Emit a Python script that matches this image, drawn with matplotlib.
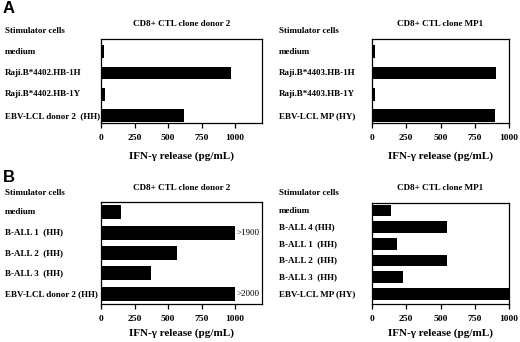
import numpy as np
import matplotlib
matplotlib.use("Agg")
import matplotlib.pyplot as plt
from matplotlib.transforms import blended_transform_factory

# Panel A data
a_left_cells = ['medium', 'Raji.B*4402.HB-1H', 'Raji.B*4402.HB-1Y', 'EBV-LCL donor 2  (HH)']
a_left_vals = [20, 970, 30, 622]
a_right_cells = ['medium', 'Raji.B*4403.HB-1H', 'Raji.B*4403.HB-1Y', 'EBV-LCL MP (HY)']
a_right_vals = [20, 905, 20, 895]

# Panel B data
b_left_cells = ['medium', 'B-ALL 1  (HH)', 'B-ALL 2  (HH)', 'B-ALL 3  (HH)', 'EBV-LCL donor 2 (HH)']
b_left_vals = [152, 1000, 568, 370, 1000]
b_left_notes = ['', '>1900', '', '', '>2000']
b_right_cells = ['medium', 'B-ALL 4 (HH)', 'B-ALL 1  (HH)', 'B-ALL 2  (HH)', 'B-ALL 3  (HH)', 'EBV-LCL MP (HY)']
b_right_vals = [142, 547, 184, 547, 223, 1000]

titles = ['CD8+ CTL clone donor 2', 'CD8+ CTL clone MP1']
xticks = [0, 250, 500, 750, 1000]
xlabel = 'IFN-\u03b3 release (pg/mL)'

W, H = 520, 342
fig = plt.figure(figsize=(W / 100, H / 100), dpi=100)
serif = 'Liberation Serif'


def px_axes(x0, y0, x1, y1):
    # pixel box (from top-left) -> figure fraction
    return fig.add_axes([x0 / W, 1 - y1 / H, (x1 - x0) / W, (y1 - y0) / H])


def panel(box, cells, vals, xmax, ylim, height, label_x, head_y, title, lpad, notes=None):
    ax = px_axes(*box)
    y = np.arange(len(cells))
    ax.barh(y, vals, height=height, color='black')
    ax.set_xlim(0, xmax)
    ax.set_ylim(*ylim)
    ax.set_yticks([])
    ax.set_xticks(xticks)
    ax.set_xticklabels([str(t) for t in xticks], fontfamily=serif,
                       fontweight='bold', fontsize=6.8)
    ax.tick_params(axis='x', direction='out', length=3.5, width=0.9, pad=4.5)
    for s in ax.spines.values():
        s.set_linewidth(0.9)
    ax.set_xlabel(xlabel, fontfamily=serif, fontweight='bold', fontsize=8, labelpad=lpad)
    ax.set_title(title, fontfamily=serif, fontweight='bold', fontsize=6.5, pad=9)
    tr = blended_transform_factory(fig.transFigure, ax.transData)
    for yi, c in zip(y, cells):
        ax.text(label_x / W, yi, c, transform=tr, ha='left', va='center',
                fontfamily=serif, fontweight='bold', fontsize=6.5)
    fig.text(label_x / W, 1 - head_y / H, 'Stimulator cells', ha='left', va='center',
             fontfamily=serif, fontweight='bold', fontsize=6.5)
    if notes:
        for yi, v, n in zip(y, vals, notes):
            if n:
                ax.text(v + 8, yi, n, ha='left', va='center',
                        fontfamily=serif, fontsize=6.5)
    return ax


panel((101, 39, 262, 123), a_left_cells, a_left_vals, 1200, (3.33, -0.59), 0.6, 5, 31, titles[0], 6.5)
panel((372, 39, 509, 123), a_right_cells, a_right_vals, 1000, (3.33, -0.59), 0.6, 279, 31, titles[1], 6.5)
panel((101, 202, 262, 304), b_left_cells, b_left_vals, 1200, (4.5, -0.5), 0.68, 5, 193, titles[0], 3.5,
      b_left_notes)
panel((372, 203, 509, 304), b_right_cells, b_right_vals, 1000, (5.6, -0.45), 0.7, 279, 193, titles[1], 3.5)

fig.text(3 / W, 1 - 1 / H, 'A', ha='left', va='top', fontfamily='Liberation Sans',
         fontweight='bold', fontsize=12)
fig.text(3 / W, 1 - 170 / H, 'B', ha='left', va='top', fontfamily='Liberation Sans',
         fontweight='bold', fontsize=12)

fig.savefig('out.png', dpi=100)
